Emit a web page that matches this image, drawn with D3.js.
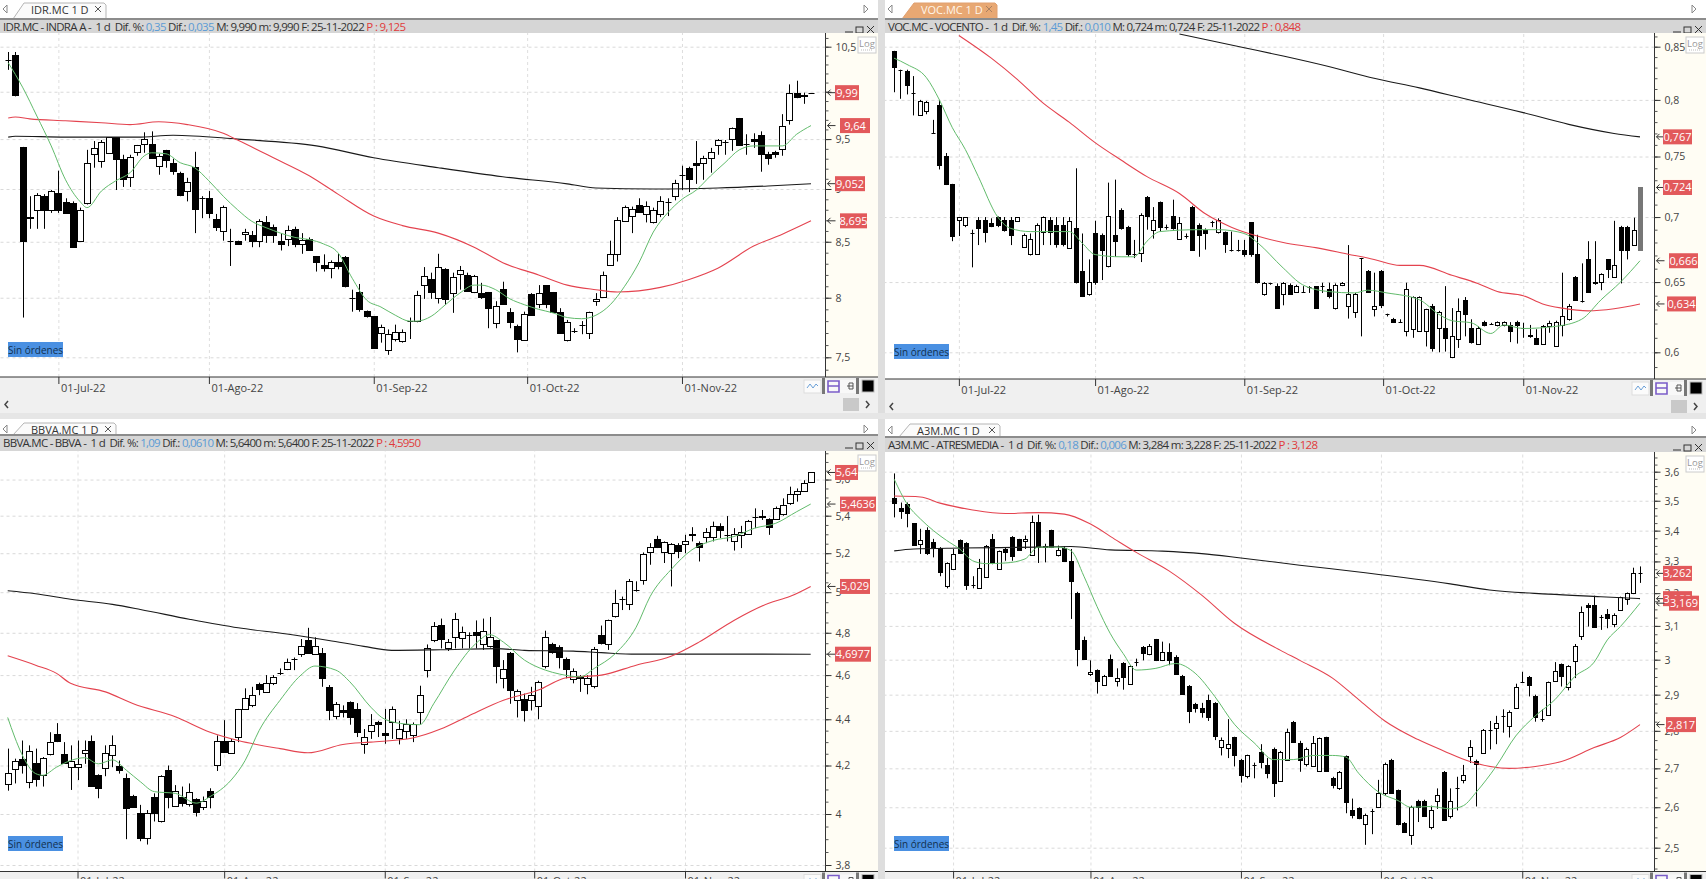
<!DOCTYPE html>
<html>
<head>
<meta charset="utf-8">
<title>Four charts</title>
<script src="https://d3js.org/d3.v7.min.js"></script>
<style>
    body { margin: 0px; background: #fff; overflow: hidden; }
    text { font-family: "Open Sans", sans-serif; }
    .tick text { fill: #444; font-size: 10.5px; }
    .domain { stroke: #333; }
</style>
</head>
<body>
<svg width="1706" height="879"></svg>
<script>
// Month marks, counted in trading days from the first one
const monthLabels = ['01-Jul-22', '01-Ago-22', '01-Sep-22', '01-Oct-22', '01-Nov-22'];
const monthOffsets = [0, 21, 44, 65.4, 87];

// ---- IDR.MC
const idrOpen = [10.35,10.41,9.42,8.72,8.80,8.93,8.80,8.96,8.87,8.86,8.51,8.86,9.35,9.28,9.36,9.52,9.30,9.12,9.37,9.45,9.45,9.23,9.39,9.26,9.16,8.98,9.22,8.91,8.91,8.71,8.60,8.51,8.51,8.57,8.56,8.51,8.68,8.64,8.51,8.53,8.62,8.48,8.53,8.37,8.29,8.26,8.32,8.36,8.00,8.05,7.89,7.84,7.70,7.56,7.65,7.63,7.80,7.80,8.11,8.16,8.00,8.25,8.04,8.21,8.20,8.05,8.04,8.05,7.78,8.08,7.88,7.76,7.64,8.03,7.95,8.11,8.05,7.88,7.64,7.72,7.77,7.70,7.97,8.01,8.29,8.385,8.69,8.74,8.85,8.76,8.68,8.76,8.87,8.93,9.14,9.21,9.26,9.26,9.31,9.44,9.47,9.50,9.72,9.45,9.50,9.54,9.35,9.37,9.40,9.70,9.99,9.955,9.99];
const idrHigh = [10.44,10.44,9.42,8.93,8.96,8.95,8.99,9.18,8.91,8.88,8.82,9.39,9.48,9.49,9.52,9.52,9.34,9.34,9.44,9.57,9.58,9.35,9.39,9.30,9.17,9.11,9.37,8.93,8.98,8.76,8.84,8.62,8.51,8.62,8.60,8.71,8.74,8.66,8.58,8.65,8.64,8.58,8.54,8.37,8.385,8.33,8.39,8.37,8.07,8.12,7.89,7.84,7.77,7.73,7.77,7.73,7.83,8.06,8.27,8.22,8.39,8.26,8.22,8.28,8.22,8.20,8.13,8.05,7.97,8.14,7.91,7.77,7.88,8.04,8.11,8.11,8.05,7.91,7.81,7.74,7.80,7.88,8.04,8.23,8.51,8.73,8.84,8.83,8.91,8.88,8.82,8.93,8.91,9.09,9.23,9.22,9.48,9.33,9.41,9.50,9.49,9.62,9.72,9.55,9.56,9.58,9.37,9.38,9.76,10.08,10.12,9.99,9.99];
const idrLow = [10.24,9.95,7.83,8.62,8.62,8.62,8.77,8.77,8.77,8.45,8.50,8.85,9.21,9.21,9.36,8.99,9.02,9.02,9.33,9.36,9.30,9.14,9.21,9.14,8.93,8.88,8.58,8.72,8.72,8.60,8.51,8.28,8.47,8.51,8.45,8.45,8.49,8.49,8.42,8.46,8.45,8.39,8.42,8.23,8.23,8.17,8.25,8.09,7.88,7.88,7.83,7.57,7.62,7.52,7.63,7.62,7.65,7.79,7.99,7.99,7.95,7.94,7.87,8.07,8.05,8.04,7.99,7.74,7.74,7.94,7.74,7.54,7.64,7.85,7.91,7.91,7.88,7.70,7.63,7.70,7.69,7.65,7.93,8.00,8.28,8.32,8.69,8.58,8.77,8.68,8.67,8.73,8.74,8.89,8.99,8.97,9.05,9.09,9.16,9.34,9.34,9.38,9.43,9.34,9.41,9.17,9.24,9.31,9.33,9.65,9.93,9.87,9.99];
const idrClose = [10.35,9.97,8.51,8.73,8.94,8.80,8.98,8.80,8.77,8.45,8.80,9.26,9.41,9.47,9.52,9.30,9.10,9.32,9.44,9.50,9.31,9.33,9.29,9.18,8.94,9.07,8.81,8.91,8.77,8.64,8.83,8.51,8.48,8.59,8.51,8.69,8.56,8.56,8.48,8.61,8.48,8.52,8.42,8.32,8.26,8.32,8.28,8.10,8.00,7.90,7.84,7.58,7.75,7.69,7.71,7.71,7.80,8.02,8.19,8.05,8.27,7.99,8.18,8.24,8.06,8.19,8.01,7.91,7.93,7.95,7.79,7.65,7.86,7.85,8.04,7.95,7.88,7.70,7.79,7.72,7.77,7.88,7.99,8.20,8.385,8.70,8.83,8.81,8.78,8.84,8.80,8.88,8.87,9.06,9.14,9.10,9.24,9.31,9.37,9.49,9.47,9.62,9.44,9.45,9.48,9.35,9.31,9.35,9.64,9.99,9.94,9.97,9.99];
const idrFastDays = [0,2,4,6,8,10,11,13,15,17,19,20,22,24,26,28,30,32,34,36,38,40,42,44,46,48,50,52,54,56,57,59,61,63,65,66,68,70,72,74,76,78,80,82,84,86,88,90,92,94,96,98,100,102,104,106,108,110,112];
const idrFast = [10.32,10.05,9.74,9.43,9.09,8.88,8.82,8.98,9.08,9.16,9.33,9.36,9.35,9.26,9.21,9.08,8.93,8.80,8.69,8.63,8.58,8.54,8.52,8.48,8.40,8.17,7.98,7.92,7.85,7.80,7.80,7.84,7.94,8.04,8.11,8.11,8.07,7.99,7.94,7.90,7.87,7.83,7.82,7.85,7.94,8.10,8.31,8.59,8.77,8.90,8.99,9.13,9.26,9.39,9.43,9.43,9.43,9.55,9.64];
const idrMidDays = [0,1,3,8,13,17,21,25,30,32,37,42,46,51,55,60,65,69,74,78,82,85,91,95,99,104,108,112];
const idrMid = [9.72,9.73,9.71,9.69,9.67,9.65,9.68,9.65,9.56,9.49,9.31,9.13,8.95,8.74,8.65,8.58,8.45,8.31,8.20,8.11,8.07,8.05,8.09,8.16,8.26,8.46,8.57,8.695];
const idrSlowDays = [0,1,8,18,23,32,43,51,60,69,78,82,90,99,106,112];
const idrSlow = [9.52,9.53,9.52,9.52,9.54,9.50,9.43,9.31,9.21,9.12,9.05,9.01,9.00,9.01,9.03,9.052];
const idrTicks = [10.5,10,9.5,9,8.5,8,7.5];
const idrTags = [9.99,9.64,9.052,8.695];
const idrTagText = ['9,99','9,64','9,052','8,695'];

// ---- VOC.MC
const vocOpen = [.846,.828,.827,.806,.786,.790,.770,.795,.7505,.727,.698,.694,.687,.698,.698,.695,.700,.698,.698,.697,.6765,.671,.671,.6885,.698,.694,.694,.676,.691,.658,.641,.687,.686,.662,.686,.706,.692,.671,.672,.716,.690,.712,.692,.7005,.683,.685,.708,.694,.690,.696,.688,.688,.674,.674,.6745,.696,.671,.641,.649,.647,.641,.648,.643,.643,.646,.647,.647,.645,.631,.6475,.6325,.628,.668,.658,.6305,.658,.6265,.6235,.621,.6147,.616,.615,.615,.6325,.617,.617,.5965,.609,.6365,.617,.606,.621,.620,.619,.619,.619,.621,.6165,.612,.610,.606,.618,.6045,.619,.623,.654,.636,.667,.650,.650,.667,.654,.692,.692,.678,.674];
const vocHigh = [.846,.828,.828,.822,.800,.799,.782,.800,.753,.727,.700,.700,.690,.700,.700,.699,.7005,.700,.700,.700,.687,.687,.695,.7005,.700,.700,.700,.700,.740,.687,.667,.697,.687,.728,.7305,.707,.693,.682,.703,.717,.708,.7125,.694,.714,.700,.687,.709,.695,.691,.697,.699,.6885,.6885,.682,.682,.696,.686,.650,.6495,.649,.650,.649,.648,.647,.647,.647,.6495,.6495,.649,.650,.678,.642,.668,.659,.657,.659,.627,.624,.623,.6495,.6395,.6395,.6305,.634,.629,.647,.631,.638,.639,.623,.618,.622,.6205,.6215,.6215,.621,.622,.6205,.619,.616,.619,.622,.622,.657,.634,.6545,.664,.681,.681,.6565,.667,.697,.693,.693,.6995,.724];
const vocLow = [.807,.801,.805,.786,.786,.787,.770,.739,.726,.681,.685,.692,.661,.678,.680,.692,.692,.6885,.678,.697,.676,.670,.6705,.678,.678,.676,.677,.676,.649,.639,.640,.648,.6515,.661,.669,.690,.669,.668,.665,.690,.683,.6885,.690,.690,.682,.683,.674,.669,.6745,.692,.687,.672,.673,.673,.669,.669,.649,.640,.648,.6305,.633,.641,.642,.642,.642,.631,.642,.638,.630,.647,.6235,.624,.611,.642,.625,.631,.625,.6205,.6205,.611,.610,.615,.604,.6005,.600,.6005,.596,.603,.611,.606,.606,.618,.619,.618,.618,.607,.606,.610,.610,.605,.606,.6135,.604,.611,.622,.6365,.635,.642,.648,.644,.653,.6535,.649,.667,.6775,.674];
const vocClose = [.831,.828,.814,.806,.799,.798,.770,.743,.727,.685,.700,.700,.687,.691,.6885,.693,.694,.690,.686,.700,.686,.683,.694,.700,.6885,.679,.679,.697,.650,.640,.650,.650,.674,.701,.681,.691,.671,.671,.702,.701,.698,.692,.692,.691,.695,.685,.674,.686,.687,.696,.698,.679,.674,.674,.671,.671,.650,.649,.649,.631,.6495,.6415,.647,.643,.646,.631,.647,.6395,.648,.6495,.641,.641,.668,.643,.6325,.633,.6265,.621,.621,.6448,.639,.639,.630,.603,.628,.610,.611,.629,.6265,.607,.617,.619,.620,.621,.621,.615,.619,.6165,.611,.606,.618,.6205,.621,.625,.6325,.637,.636,.643,.649,.656,.660,.6625,.6745,.674,.690,.724];
const vocFastDays = [0,2,5,7,9,11,13,16,18,21,27,29,31,35,37,39,41,47,50,54,56,60,63,67,71,73,76,81,84,86,89,92,94,97,102,106,109,112,115];
const vocFast = [.839,.833,.8205,.800,.775,.756,.733,.700,.691,.6885,.6885,.6796,.6707,.669,.669,.681,.6885,.690,.690,.687,.680,.6605,.648,.643,.642,.644,.642,.637,.6265,.622,.6205,.613,.619,.6165,.618,.623,.637,.650,.666];
const vocMidDays = [10,15,19,23,27,31,35,39,44,48,52,56,60,65,70,74,78,81,86,90,93,97,100,103,107,111,115];
const vocMid = [.861,.839,.819,.797,.780,.762,.747,.733,.719,.7026,.692,.685,.680,.676,.671,.667,.6625,.6625,.655,.649,.643,.640,.634,.631,.629,.6305,.634];
const vocSlowDays = [44,54,60,67,74,81,88,97,104,111,115];
const vocSlow = [.8624,.849,.841,.831,.820,.811,.801,.7885,.778,.770,.767];
const vocTicks = [.85,.8,.75,.7,.65,.6];
const vocTags = [.767,.724,.666,.634];
const vocTagText = ['0,767','0,724','0,666','0,634'];

// ---- BBVA.MC
const bbvaOpen = [4.121,4.186,4.229,4.132,4.21,4.159,4.25,4.336,4.247,4.193,4.193,4.253,4.304,4.159,4.189,4.243,4.197,4.146,4.075,4.003,3.905,4.068,3.97,4.18,4.034,4.068,4.041,4.061,4.027,4.094,4.204,4.307,4.254,4.322,4.446,4.462,4.557,4.523,4.565,4.611,4.628,4.677,4.70,4.766,4.70,4.705,4.543,4.415,4.442,4.477,4.446,4.293,4.347,4.389,4.339,4.389,4.318,4.35,4.332,4.431,4.623,4.767,4.84,4.729,4.781,4.775,4.791,4.802,4.744,4.735,4.763,4.585,4.704,4.485,4.492,4.485,4.457,4.643,4.747,4.732,4.677,4.58,4.595,4.557,4.551,4.791,4.747,4.881,4.966,4.939,5.009,5.06,5.204,5.274,5.205,5.20,5.244,5.25,5.303,5.253,5.285,5.285,5.342,5.297,5.265,5.294,5.303,5.393,5.40,5.38,5.38,5.407,5.468,5.517,5.538,5.589];
const bbvaHigh = [4.272,4.229,4.307,4.286,4.272,4.236,4.343,4.383,4.30,4.286,4.307,4.307,4.329,4.163,4.286,4.329,4.221,4.166,4.078,4.037,4.016,4.084,4.159,4.20,4.118,4.112,4.125,4.064,4.071,4.105,4.329,4.396,4.314,4.446,4.539,4.546,4.565,4.60,4.60,4.631,4.677,4.682,4.77,4.824,4.778,4.727,4.554,4.477,4.462,4.48,4.472,4.357,4.423,4.393,4.446,4.457,4.393,4.40,4.386,4.551,4.744,4.852,4.869,4.77,4.897,4.83,4.802,4.86,4.869,4.877,4.766,4.67,4.708,4.534,4.515,4.546,4.574,4.81,4.752,4.74,4.682,4.631,4.60,4.60,4.732,4.835,4.864,5.012,4.978,5.067,5.055,5.204,5.253,5.292,5.262,5.253,5.253,5.297,5.338,5.262,5.333,5.368,5.359,5.398,5.333,5.345,5.377,5.44,5.431,5.386,5.45,5.495,5.56,5.55,5.596,5.64];
const bbvaLow = [4.095,4.125,4.166,4.105,4.112,4.112,4.243,4.30,4.207,4.098,4.139,4.207,4.114,4.064,4.155,4.193,4.166,3.90,4.026,3.892,3.879,3.97,3.966,4.023,4.03,4.03,4.03,3.99,4.016,4.023,4.177,4.254,4.253,4.30,4.442,4.454,4.508,4.519,4.554,4.60,4.623,4.623,4.685,4.70,4.698,4.546,4.396,4.40,4.408,4.376,4.322,4.25,4.314,4.322,4.293,4.314,4.29,4.314,4.30,4.379,4.589,4.755,4.725,4.713,4.725,4.725,4.725,4.725,4.718,4.729,4.562,4.539,4.469,4.408,4.39,4.439,4.40,4.631,4.70,4.631,4.585,4.562,4.523,4.512,4.539,4.744,4.718,4.874,4.911,4.911,5.003,5.038,5.14,5.227,5.149,5.029,5.174,5.20,5.262,5.157,5.253,5.262,5.28,5.262,5.214,5.227,5.297,5.333,5.377,5.297,5.377,5.40,5.459,5.477,5.532,5.587];
const bbvaClose = [4.169,4.221,4.204,4.261,4.142,4.233,4.30,4.303,4.21,4.221,4.207,4.264,4.116,4.108,4.253,4.289,4.182,4.026,4.03,3.905,4.003,4.003,4.156,4.071,4.095,4.046,4.091,4.007,4.054,4.071,4.304,4.257,4.304,4.446,4.497,4.508,4.534,4.562,4.592,4.611,4.659,4.677,4.736,4.704,4.736,4.585,4.439,4.469,4.431,4.408,4.343,4.322,4.374,4.379,4.33,4.446,4.357,4.379,4.379,4.508,4.725,4.835,4.77,4.755,4.866,4.805,4.791,4.791,4.807,4.778,4.642,4.628,4.531,4.528,4.442,4.508,4.568,4.778,4.709,4.685,4.626,4.62,4.585,4.585,4.724,4.75,4.86,4.948,4.966,5.055,5.009,5.195,5.23,5.23,5.258,5.25,5.214,5.262,5.294,5.232,5.31,5.342,5.324,5.297,5.303,5.31,5.372,5.393,5.395,5.338,5.44,5.459,5.519,5.538,5.582,5.64];
const bbvaFastDays = [0,1,2,4,5,7,9,11,13,15,17,19,21,24,27,29,32,34,36,39,42,44,47,49,52,54,57,59,61,64,67,69,71,74,77,79,82,84,87,90,92,95,98,101,104,107,110,113,115];
const bbvaFast = [4.408,4.322,4.25,4.166,4.159,4.193,4.221,4.233,4.207,4.224,4.18,4.132,4.091,4.084,4.044,4.071,4.139,4.221,4.35,4.485,4.60,4.642,4.623,4.569,4.454,4.40,4.379,4.376,4.469,4.623,4.747,4.791,4.755,4.67,4.623,4.605,4.592,4.631,4.70,4.827,4.978,5.115,5.218,5.267,5.288,5.333,5.359,5.422,5.4636];
const bbvaMidDays = [0,4,7,9,14,18,24,29,33,39,43,48,52,58,62,66,71,76,80,85,90,95,99,104,109,112,115];
const bbvaMid = [4.69,4.646,4.608,4.562,4.523,4.469,4.411,4.343,4.307,4.272,4.254,4.29,4.30,4.318,4.357,4.415,4.485,4.531,4.588,4.60,4.646,4.688,4.755,4.86,4.945,4.978,5.029];
const bbvaSlowDays = [0,4,9,15,19,26,33,40,46,51,55,62,70,74,81,85,90,101,115];
const bbvaSlow = [5.007,4.992,4.965,4.939,4.914,4.866,4.824,4.794,4.763,4.735,4.716,4.719,4.724,4.716,4.712,4.705,4.698,4.698,4.6977];
const bbvaTicks = [5.6,5.4,5.2,5,4.8,4.6,4.4,4.2,4,3.8];
const bbvaTags = [5.64,5.4636,5.029,4.6977];
const bbvaTagText = ['5,64','5,4636','5,029','4,6977'];

// ---- A3M.MC
const a3mOpen = [3.51,3.477,3.488,3.424,3.357,3.402,3.364,3.343,3.221,3.275,3.368,3.36,3.226,3.217,3.251,3.373,3.275,3.34,3.378,3.371,3.365,3.321,3.43,3.345,3.402,3.321,3.343,3.302,3.201,3.058,2.958,2.97,2.928,3.001,2.94,2.991,2.93,2.993,3.038,3.016,3.061,2.998,3.023,3.008,2.953,2.925,2.875,2.862,2.884,2.877,2.756,2.755,2.782,2.723,2.681,2.709,2.743,2.709,2.752,2.668,2.723,2.825,2.766,2.711,2.707,2.693,2.782,2.674,2.648,2.732,2.594,2.598,2.559,2.59,2.60,2.635,2.723,2.644,2.561,2.531,2.617,2.617,2.551,2.617,2.691,2.578,2.65,2.67,2.732,2.718,2.741,2.803,2.809,2.841,2.812,2.864,2.936,2.951,2.895,2.832,2.843,2.94,2.987,2.921,2.996,3.071,3.164,3.164,3.128,3.136,3.106,3.148,3.181,3.199,3.262];
const a3mHigh = [3.594,3.494,3.494,3.425,3.406,3.411,3.373,3.346,3.297,3.34,3.371,3.362,3.253,3.308,3.353,3.389,3.335,3.346,3.382,3.373,3.384,3.45,3.453,3.357,3.403,3.351,3.349,3.34,3.204,3.068,2.998,2.972,2.956,3.015,2.975,2.993,2.984,3.003,3.04,3.046,3.061,3.053,3.048,3.013,2.956,2.927,2.877,2.877,2.90,2.879,2.782,2.832,2.784,2.725,2.736,2.715,2.764,2.727,2.755,2.746,2.806,2.827,2.773,2.755,2.786,2.782,2.784,2.678,2.693,2.734,2.622,2.60,2.584,2.596,2.67,2.715,2.725,2.645,2.563,2.604,2.619,2.619,2.604,2.648,2.693,2.648,2.678,2.709,2.775,2.723,2.805,2.827,2.841,2.859,2.856,2.931,2.965,2.953,2.90,2.859,2.937,2.993,2.989,2.984,3.046,3.159,3.169,3.192,3.133,3.151,3.138,3.189,3.202,3.28,3.284];
const a3mLow = [3.444,3.439,3.411,3.351,3.324,3.321,3.313,3.253,3.215,3.273,3.324,3.21,3.215,3.215,3.248,3.291,3.273,3.302,3.302,3.335,3.34,3.319,3.295,3.297,3.343,3.316,3.299,3.121,2.981,3.0,2.953,2.903,2.926,2.951,2.923,2.914,2.928,2.981,2.998,3.013,2.996,2.996,2.984,2.956,2.90,2.821,2.85,2.836,2.827,2.775,2.734,2.727,2.705,2.663,2.674,2.674,2.70,2.674,2.626,2.665,2.721,2.768,2.691,2.705,2.705,2.691,2.691,2.648,2.644,2.585,2.572,2.57,2.507,2.533,2.598,2.63,2.635,2.555,2.537,2.507,2.563,2.576,2.545,2.596,2.566,2.572,2.592,2.661,2.714,2.602,2.738,2.75,2.764,2.795,2.782,2.862,2.933,2.895,2.825,2.825,2.841,2.937,2.923,2.912,2.947,3.058,3.098,3.096,3.088,3.093,3.096,3.146,3.164,3.197,3.232];
const a3mClose = [3.494,3.464,3.457,3.353,3.368,3.326,3.346,3.266,3.295,3.324,3.326,3.226,3.226,3.278,3.351,3.297,3.332,3.329,3.319,3.338,3.373,3.428,3.346,3.349,3.346,3.338,3.302,3.239,3.031,3.002,2.965,2.94,2.953,2.953,2.947,2.95,2.981,2.993,3.021,3.04,2.998,3.023,2.998,2.958,2.903,2.855,2.864,2.853,2.839,2.786,2.775,2.764,2.734,2.683,2.735,2.709,2.716,2.687,2.663,2.743,2.796,2.77,2.723,2.75,2.766,2.78,2.693,2.657,2.691,2.613,2.58,2.572,2.581,2.59,2.637,2.711,2.637,2.559,2.539,2.60,2.60,2.578,2.592,2.632,2.567,2.617,2.65,2.683,2.757,2.711,2.802,2.803,2.821,2.841,2.852,2.923,2.936,2.928,2.839,2.832,2.936,2.968,2.953,2.982,3.041,3.141,3.157,3.098,3.128,3.123,3.133,3.187,3.199,3.262,3.262];
const a3mFastDays = [0,2,4,6,8,10,12,14,17,20,22,25,27,29,31,33,35,37,40,43,46,49,52,55,58,61,64,67,69,71,74,77,79,82,85,87,89,92,95,98,101,104,107,109,111,114];
const a3mFast = [3.574,3.488,3.439,3.40,3.368,3.34,3.302,3.293,3.295,3.308,3.346,3.346,3.335,3.253,3.159,3.078,3.018,2.97,2.975,2.989,2.961,2.895,2.818,2.768,2.723,2.723,2.734,2.734,2.73,2.687,2.639,2.617,2.60,2.602,2.596,2.604,2.639,2.705,2.786,2.841,2.886,2.951,2.993,3.058,3.098,3.169];
const a3mMidDays = [0,4,7,12,17,22,26,30,34,37,42,47,52,59,62,67,71,75,80,84,88,94,98,102,107,111,114];
const a3mMid = [3.516,3.513,3.492,3.469,3.457,3.46,3.455,3.422,3.368,3.329,3.27,3.194,3.108,3.028,2.998,2.947,2.886,2.827,2.777,2.746,2.718,2.70,2.705,2.718,2.755,2.782,2.817];
const a3mSlowDays = [0,3,10,22,27,33,41,47,53,62,72,85,91,100,108,114];
const a3mSlow = [3.334,3.34,3.343,3.346,3.348,3.337,3.333,3.325,3.311,3.288,3.264,3.229,3.21,3.197,3.189,3.183];
const a3mTicks = [3.6,3.5,3.4,3.3,3.2,3.1,3,2.9,2.8,2.7,2.6,2.5];
const a3mTags = [3.262,3.183,3.169,2.817];
const a3mTagText = ['3,262','3,183','3,169','2,817'];

const toCandles = (o, h, l, c) => o.map((d, i) => ({day: i, open: d, high: h[i], low: l[i], close: c[i]}));
const toLine = (days, vals) => days.map((d, i) => ({day: d, val: vals[i]}));

const panels = [
    {id: 'idr', tab: 'IDR.MC 1 D', name: 'IDR.MC - INDRA A -', dif1: '0,35', dif2: '0,035', hi: '9,990', lo: '9,990', pe: '9,125',
     left: 0, axisX: 825.5, right: 878, tabTop: 0, headTop: 19, top: 33, bottom: 377, x0: 8.2, x1: 811, julyDay: 7,
     tickA: 10.5, yA: 46.7, tickB: 7.5, yB: 357.3, minor: 0.1, tabX: [13, 24, 106], btnY: 342, dateDy: 15,
     candles: toCandles(idrOpen, idrHigh, idrLow, idrClose), fast: toLine(idrFastDays, idrFast), mid: toLine(idrMidDays, idrMid), slow: toLine(idrSlowDays, idrSlow),
     ticks: idrTicks, tags: idrTags, tagText: idrTagText, tagX: [835, 840, 835, 840], tagW: [24, 30, 30, 27], headW: 403},
    {id: 'voc', tab: 'VOC.MC 1 D', active: true, name: 'VOC.MC - VOCENTO -', dif1: '1,45', dif2: '0,010', hi: '0,724', lo: '0,724', pe: '0,848',
     left: 885, axisX: 1654.5, right: 1706, tabTop: 0, headTop: 19, top: 33, bottom: 379, x0: 894, x1: 1640, julyDay: 10,
     tickA: .85, yA: 46.7, tickB: .6, yB: 352.3, minor: .01, tabX: [902, 914, 997], btnY: 344, dateDy: 15,
     candles: toCandles(vocOpen, vocHigh, vocLow, vocClose), fast: toLine(vocFastDays, vocFast), mid: toLine(vocMidDays, vocMid), slow: toLine(vocSlowDays, vocSlow),
     ticks: vocTicks, tags: vocTags, tagText: vocTagText, tagX: [1663, 1663, 1669, 1667], tagW: [29, 29, 29, 29], headW: 413, greyDay: 115},
    {id: 'bbva', tab: 'BBVA.MC 1 D', name: 'BBVA.MC - BBVA -', dif1: '1,09', dif2: '0,0610', hi: '5,6400', lo: '5,6400', pe: '4,5950',
     left: 0, axisX: 825.5, right: 878, tabTop: 420, headTop: 435, top: 451, bottom: 871.5, x0: 7.7, x1: 810.7, julyDay: 10,
     tickA: 5.4, yA: 515.7, tickB: 3.8, yB: 865, minor: .05, tabX: [13, 24, 116], btnY: 836, dateDy: 13.5,
     candles: toCandles(bbvaOpen, bbvaHigh, bbvaLow, bbvaClose), fast: toLine(bbvaFastDays, bbvaFast), mid: toLine(bbvaMidDays, bbvaMid), slow: toLine(bbvaSlowDays, bbvaSlow),
     ticks: bbvaTicks, tags: bbvaTags, tagText: bbvaTagText, tagX: [835, 840, 840, 835], tagW: [23, 36, 30, 36], headW: 418},
    {id: 'a3m', tab: 'A3M.MC 1 D', name: 'A3M.MC - ATRESMEDIA -', dif1: '0,18', dif2: '0,006', hi: '3,284', lo: '3,228', pe: '3,128',
     left: 885, axisX: 1654.5, right: 1706, tabTop: 421, headTop: 437, top: 452, bottom: 871.5, x0: 894.2, x1: 1640, julyDay: 9,
     tickA: 3.6, yA: 471.7, tickB: 2.5, yB: 847.7, minor: .025, tabX: [899, 910, 1000], btnY: 836, dateDy: 13.5,
     candles: toCandles(a3mOpen, a3mHigh, a3mLow, a3mClose), fast: toLine(a3mFastDays, a3mFast), mid: toLine(a3mMidDays, a3mMid), slow: toLine(a3mSlowDays, a3mSlow),
     ticks: a3mTicks, tags: a3mTags, tagText: a3mTagText, tagX: [1663, 1663, 1669, 1666], tagW: [29, 29, 30, 30], headW: 430}
];

const svg = d3.select('svg');
const decimalComma = d => String(d).replace('.', ',');

// window frame between the panels
svg.append('rect').attr('x', 878).attr('y', 0).attr('width', 7).attr('height', 879).attr('fill', '#dedede');
svg.append('rect').attr('x', 0).attr('y', 413).attr('width', 1706).attr('height', 6).attr('fill', '#e6e6e6');

panels.forEach(drawPanel);

function drawPanel(p) {
    const g = svg.append('g').attr('id', p.id);
    const plotW = p.axisX - p.left;
    const plotH = p.bottom - p.top;
    const n = p.candles.length;

    // log price scale, fixed by two ticks
    const y = d3.scaleLog().domain([p.tickA, p.tickB]).range([p.yA, p.yB]);
    const x = d3.scaleLinear().domain([0, n - 1]).range([p.x0, p.x1]);
    const monthDays = monthOffsets.map(d => d + p.julyDay);
    const step = (p.x1 - p.x0) / (n - 1);
    const bodyW = 2 * Math.round(step * 0.36);   // even, so the wick sits on a pixel

    drawChrome(g, p);

    // grid
    const gridY = g.append('g').attr('transform', `translate(${p.axisX},0)`)
        .call(d3.axisLeft(y).tickValues(p.ticks).tickSize(plotW).tickFormat(''));
    gridY.select('.domain').remove();
    gridY.selectAll('line').attr('stroke', '#d9d9d9').attr('stroke-dasharray', '3,3');
    const gridX = g.append('g').attr('transform', `translate(0,${p.bottom})`)
        .call(d3.axisTop(x).tickValues(monthDays).tickSize(plotH).tickFormat(''));
    gridX.select('.domain').remove();
    gridX.selectAll('line').attr('stroke', '#dedede').attr('stroke-dasharray', '3,3');

    const clipId = 'clip-' + p.id;
    g.append('clipPath').attr('id', clipId).append('rect')
        .attr('x', p.left).attr('y', p.top).attr('width', plotW).attr('height', plotH);
    const plot = g.append('g').attr('clip-path', `url(#${clipId})`);

    // candles
    const c = plot.selectAll('.candle').data(p.candles).enter().append('g').attr('class', 'candle');
    const barColor = d => d.day === p.greyDay ? '#777' : '#000';
    const bodyTop = d => Math.round(y(Math.max(d.open, d.close))) + 0.5;
    const bodyBottom = d => Math.round(y(Math.min(d.open, d.close))) + 0.5;
    c.append('line')
        .attr('x1', d => Math.round(x(d.day)) + 0.5).attr('x2', d => Math.round(x(d.day)) + 0.5)
        .attr('y1', d => y(d.high)).attr('y2', d => y(d.low))
        .attr('stroke', barColor).attr('stroke-width', 1);
    c.append('rect')
        .attr('x', d => Math.round(x(d.day)) + 0.5 - bodyW / 2)
        .attr('y', bodyTop)
        .attr('width', bodyW)
        .attr('height', d => bodyBottom(d) - bodyTop(d))
        .attr('fill', d => d.day === p.greyDay ? '#777' : (d.close >= d.open ? '#fff' : '#000'))
        .attr('stroke', barColor).attr('stroke-width', 1);
    // flat days have no body height, a rect would vanish
    c.filter(d => bodyBottom(d) === bodyTop(d)).append('line')
        .attr('x1', d => Math.round(x(d.day)) + 0.5 - bodyW / 2).attr('x2', d => Math.round(x(d.day)) + 0.5 + bodyW / 2)
        .attr('y1', bodyTop).attr('y2', bodyTop)
        .attr('stroke', '#000').attr('stroke-width', 1);

    // moving averages
    const line = d3.line().x(d => x(d.day)).y(d => y(d.val)).curve(d3.curveMonotoneX);
    [[p.slow, '#1a1a1a', 1.1], [p.mid, '#e4434f', 1.1], [p.fast, '#62bb6c', 1]].forEach(s => {
        plot.append('path').datum(s[0]).attr('fill', 'none')
            .attr('stroke', s[1]).attr('stroke-width', s[2]).attr('d', line);
    });

    // "Sin órdenes" button
    const btnX = p.left === 0 ? 8 : p.left + 9;
    g.append('rect').attr('x', btnX).attr('y', p.btnY).attr('width', 55).attr('height', 15).attr('fill', '#4a90e2');
    g.append('text').attr('x', btnX + 27.5).attr('y', p.btnY + 11.5).attr('text-anchor', 'middle')
        .attr('font-size', 10).attr('fill', '#12304f').text('Sin órdenes');

    // price axis, majors and small marks
    const minorVals = d3.range(Math.ceil(y.invert(p.bottom) / p.minor), Math.floor(y.invert(p.top) / p.minor) + 1).map(k => k * p.minor);
    const axisMinor = g.append('g').attr('transform', `translate(${p.axisX},0)`)
        .call(d3.axisRight(y).tickValues(minorVals).tickSize(3).tickFormat(''));
    axisMinor.select('.domain').attr('d', `M0,${p.top}V${p.bottom}`);
    axisMinor.selectAll('line').attr('stroke', '#555');
    const axisMajor = g.append('g').attr('transform', `translate(${p.axisX},0)`)
        .call(d3.axisRight(y).tickValues(p.ticks).tickSize(6).tickPadding(4).tickFormat(decimalComma));
    axisMajor.select('.domain').remove();
    axisMajor.selectAll('line').attr('stroke', '#333');

    // last value tags
    p.tags.forEach((v, i) => {
        const ty = y(v);
        g.append('path').attr('d', `M${p.axisX + 2},${ty}h8M${p.axisX + 2},${ty}l3,-3M${p.axisX + 2},${ty}l3,3`)
            .attr('fill', 'none').attr('stroke', '#333');
        g.append('rect').attr('x', p.tagX[i]).attr('y', ty - 7.5).attr('width', p.tagW[i]).attr('height', 15).attr('fill', '#e2595b');
        g.append('text').attr('x', p.tagX[i] + p.tagW[i] / 2).attr('y', ty + 4).attr('text-anchor', 'middle')
            .attr('font-size', 11).attr('fill', '#fff').text(p.tagText[i]);
    });

    // date axis
    const axisDate = g.append('g').attr('transform', `translate(0,${p.bottom})`)
        .call(d3.axisBottom(x).tickValues(monthDays).tickSize(7).tickFormat((d, i) => monthLabels[i]));
    axisDate.select('.domain').attr('d', `M${p.left},0H${p.right}`);
    axisDate.selectAll('line').attr('stroke', '#333');
    axisDate.selectAll('text').attr('text-anchor', 'start').attr('x', 2).attr('y', 0).attr('dy', p.dateDy + 'px').style('font-size', '11px');
}

function drawChrome(g, p) {
    const w = p.right - p.left;
    // tab row
    g.append('rect').attr('x', p.left).attr('y', p.tabTop).attr('width', w).attr('height', p.headTop - p.tabTop).attr('fill', '#fff');
    const tx = p.tabX;
    g.append('path').attr('d', `M${tx[0]},${p.headTop}L${tx[1]},${p.tabTop + 3}H${tx[2] - 2}L${tx[2]},${p.tabTop + 5}V${p.headTop}Z`)
        .attr('fill', p.active ? '#e8a873' : '#fbfbfb').attr('stroke', p.active ? '#e0a070' : '#b5b5b5');
    g.append('text').attr('x', tx[1] + 7).attr('y', p.tabTop + 14).attr('font-size', 11)
        .attr('fill', p.active ? '#fff6ea' : '#333').text(p.tab);
    g.append('path').attr('d', `M${tx[2] - 11},${p.tabTop + 6}l6,6m0,-6l-6,6`).attr('stroke', p.active ? '#a98060' : '#555').attr('fill', 'none');
    g.append('path').attr('d', `M${p.left + 7},${p.tabTop + 5}l-4,4l4,4Z`).attr('fill', '#fff').attr('stroke', '#888');
    g.append('path').attr('d', `M${p.right - 14},${p.tabTop + 5}l4,4l-4,4Z`).attr('fill', '#fff').attr('stroke', '#888');

    // header strip
    g.append('rect').attr('x', p.left).attr('y', p.headTop).attr('width', w).attr('height', p.top - p.headTop).attr('fill', '#d6d6d6');
    g.append('rect').attr('x', p.left).attr('y', p.headTop - 1).attr('width', w).attr('height', 2).attr('fill', '#8c8c8c');
    const head = g.append('text').attr('x', p.left + 3).attr('y', p.headTop + 11.5).attr('font-size', 11.5).attr('fill', '#333')
        .attr('textLength', p.headW).attr('lengthAdjust', 'spacing');
    head.append('tspan').text(`${p.name}  1 d  Dif. %: `).attr('xml:space', 'preserve');
    head.append('tspan').attr('fill', '#5b9bd5').text(p.dif1);
    head.append('tspan').text('  Dif.: ');
    head.append('tspan').attr('fill', '#5b9bd5').text(p.dif2);
    head.append('tspan').text(`  M: ${p.hi}  m: ${p.lo}  F: 25-11-2022  `);
    head.append('tspan').attr('fill', '#e03b3b').text(`P : ${p.pe}`);
    const by = p.headTop + 8;
    const bx = p.right - 33;
    g.append('path').attr('d', `M${bx},${by + 5}h8`).attr('stroke', '#333');
    g.append('rect').attr('x', bx + 11).attr('y', by).attr('width', 7).attr('height', 6).attr('fill', 'none').attr('stroke', '#333');
    g.append('path').attr('d', `M${bx + 22},${by - 1}l7,7m0,-7l-7,7`).attr('stroke', '#333').attr('fill', 'none');

    // plot, price strip, date strip
    g.append('rect').attr('x', p.left).attr('y', p.top).attr('width', p.axisX - p.left).attr('height', p.bottom - p.top).attr('fill', '#fff');
    g.append('rect').attr('x', p.axisX).attr('y', p.top).attr('width', p.right - p.axisX).attr('height', p.bottom - p.top).attr('fill', '#fffdf4');
    g.append('rect').attr('x', p.left).attr('y', p.bottom).attr('width', w).attr('height', 18).attr('fill', '#f0f0f0');
    g.append('rect').attr('x', p.left).attr('y', p.bottom + 18).attr('width', w).attr('height', 413 - p.bottom - 18 > 0 ? 413 - p.bottom - 18 : 0).attr('fill', '#f0f0f0');

    // Log box
    const lx = p.right - 20;
    const ly = p.top + 4;
    g.append('rect').attr('x', lx).attr('y', ly).attr('width', 18).attr('height', 16).attr('fill', '#fff').attr('stroke', '#ccc');
    g.append('text').attr('x', lx + 9).attr('y', ly + 10).attr('text-anchor', 'middle').attr('font-size', 9.5).attr('fill', '#999').text('Log');
    g.append('path').attr('d', `M${lx + 3},${ly + 13}h12`).attr('stroke', '#bbb').attr('stroke-dasharray', '1,1');

    // tool icons in the date strip
    const ix = p.right - 74;
    const iy = p.bottom + 3;
    g.append('rect').attr('x', ix).attr('y', iy).attr('width', 17).attr('height', 13).attr('fill', '#fbfbfb').attr('stroke', '#ddd');
    g.append('path').attr('d', `M${ix + 3},${iy + 8}l3,-4l3,4l3,-4l2,2`).attr('stroke', '#6aa0d8').attr('fill', 'none');
    g.append('rect').attr('x', ix + 18).attr('y', iy - 2).attr('width', 3).attr('height', 16).attr('fill', '#777');
    g.append('rect').attr('x', ix + 21).attr('y', iy).attr('width', 31).attr('height', 13).attr('fill', '#f8f8f8');
    g.append('path').attr('d', `M${ix + 24},${iy + 1}h11v11h-11zM${ix + 24},${iy + 6}h11`).attr('stroke', '#7a5cc8').attr('stroke-width', 1.6).attr('fill', 'none');
    g.append('path').attr('d', `M${ix + 43},${iy + 6}h6m-4,-3v6h4v-6z`).attr('stroke', '#555').attr('fill', 'none');
    g.append('rect').attr('x', ix + 52).attr('y', iy - 2).attr('width', 3).attr('height', 16).attr('fill', '#777');
    g.append('rect').attr('x', ix + 58).attr('y', iy).attr('width', 12).attr('height', 12).attr('fill', '#000').attr('stroke', '#bbb');

    // scrollbar row, only seen on the upper panels
    if (p.tabTop === 0) {
        const sy = p.bottom + 18;
        g.append('rect').attr('x', p.right - 35).attr('y', sy + 3).attr('width', 16).attr('height', 13).attr('fill', '#c9c9c9');
        g.append('path').attr('d', `M${p.left + 8},${sy + 6}l-3,3.5l3,3.5`).attr('stroke', '#444').attr('stroke-width', 1.5).attr('fill', 'none');
        g.append('path').attr('d', `M${p.right - 12},${sy + 6}l3,3.5l-3,3.5`).attr('stroke', '#444').attr('stroke-width', 1.5).attr('fill', 'none');
    }
}
</script>
</body>
</html>
